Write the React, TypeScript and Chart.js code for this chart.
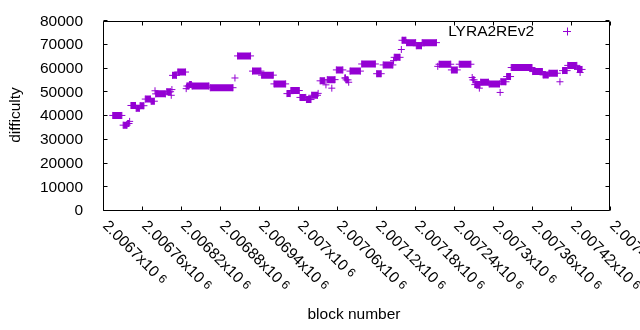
import React, { useEffect, useRef } from "react";
import { Chart, registerables } from "chart.js";

Chart.register(...registerables);

// Runs of consecutive blocks sharing the same difficulty (start block, end block, difficulty)
const runStart = [
  2006715, 2006731, 2006738, 2006741, 2006743, 2006751, 2006757, 2006765, 2006774, 2006780,
  2006781, 2006798, 2006805, 2006806, 2006807, 2006815, 2006828, 2006829, 2006833, 2006837,
  2006865, 2006903, 2006907, 2006930, 2006944, 2006963, 2006983, 2006989, 2007003, 2007013,
  2007021, 2007031, 2007034, 2007043, 2007045, 2007052, 2007059, 2007072, 2007074, 2007078,
  2007080, 2007098, 2007121, 2007131, 2007147, 2007148, 2007159, 2007160, 2007167, 2007182,
  2007191, 2007215, 2007217, 2007236, 2007248, 2007268, 2007269, 2007272, 2007279, 2007281,
  2007294, 2007311, 2007312, 2007321, 2007328, 2007361, 2007377, 2007386, 2007403, 2007407,
  2007415, 2007430, 2007434,
];
const runEnd = [
  2006729, 2006737, 2006740, 2006741, 2006750, 2006756, 2006763, 2006773, 2006779, 2006780,
  2006796, 2006804, 2006805, 2006806, 2006813, 2006827, 2006828, 2006832, 2006836, 2006863,
  2006900, 2006903, 2006927, 2006943, 2006962, 2006981, 2006988, 2007002, 2007012, 2007020,
  2007030, 2007031, 2007041, 2007043, 2007057, 2007052, 2007069, 2007073, 2007077, 2007078,
  2007096, 2007119, 2007128, 2007146, 2007147, 2007157, 2007159, 2007166, 2007181, 2007190,
  2007213, 2007215, 2007235, 2007245, 2007266, 2007268, 2007271, 2007280, 2007279, 2007293,
  2007310, 2007311, 2007320, 2007327, 2007360, 2007376, 2007385, 2007399, 2007403, 2007414,
  2007429, 2007437, 2007434,
];
const runDifficulty = [
  40300, 36200, 36900, 37800, 44500, 43300, 44400, 47200, 46300, 50700,
  49400, 50300, 48800, 51200, 57200, 58600, 51600, 52700, 53300, 52700,
  52000, 56100, 65400, 59000, 57300, 53600, 49500, 50800, 47900, 47000,
  48800, 49600, 54900, 53200, 55400, 51800, 59500, 56100, 55300, 54300,
  59000, 62000, 57900, 61600, 63400, 64800, 68100, 72000, 71000, 69700,
  71000, 61000, 61900, 59500, 61900, 56300, 55300, 53300, 51800, 54300,
  53600, 50000, 54500, 56700, 60500, 58800, 57400, 58100, 54500, 59200,
  61400, 59700, 58400,
];

const seriesName = "LYRA2REv2";
const xTickValues = [
  2006700, 2006760, 2006820, 2006880, 2006940, 2007000, 2007060,
  2007120, 2007180, 2007240, 2007300, 2007360, 2007420, 2007480,
];
const xTickLabels = [
  "2.0067", "2.00676", "2.00682", "2.00688", "2.00694", "2.007", "2.00706",
  "2.00712", "2.00718", "2.00724", "2.0073", "2.00736", "2.00742", "2.00748",
];
const yTickValues = [0, 10000, 20000, 30000, 40000, 50000, 60000, 70000, 80000];

const FONT = '"Liberation Sans", Arial, sans-serif';
const COLOR = "#9400D3";

export default function App() {
  const canvasRef = useRef<HTMLCanvasElement | null>(null);

  useEffect(() => {
    const canvas = canvasRef.current;
    if (!canvas) return;

    const data: any[] = [];
    for (let i = 0; i < runStart.length; i++) {
      data.push({ x: runStart[i], y: runDifficulty[i] });
      if (runEnd[i] !== runStart[i]) data.push({ x: runEnd[i], y: runDifficulty[i] });
      data.push({ x: runEnd[i], y: null });
    }

    const decor = {
      id: "gnuplotDecor",
      afterDraw(chart: any) {
        const { ctx, chartArea: a, scales } = chart;
        const xs = scales.x;
        const ys = scales.y;
        ctx.save();
        ctx.strokeStyle = "#000";
        ctx.lineWidth = 1;
        const L = Math.round(a.left) + 0.5;
        const R = Math.round(a.right) - 0.5;
        const T = Math.round(a.top) + 0.5;
        const B = Math.round(a.bottom) - 0.5;
        ctx.beginPath();
        ctx.rect(L, T, R - L, B - T);
        ctx.stroke();
        ctx.beginPath();
        for (const v of xTickValues) {
          const px = Math.round(xs.getPixelForValue(v)) + 0.5;
          ctx.moveTo(px, B);
          ctx.lineTo(px, B - 4);
          ctx.moveTo(px, T);
          ctx.lineTo(px, T + 4);
        }
        for (const v of yTickValues) {
          const py = Math.round(ys.getPixelForValue(v)) - 0.5;
          ctx.moveTo(L, py);
          ctx.lineTo(L + 4, py);
          ctx.moveTo(R, py);
          ctx.lineTo(R - 4, py);
        }
        ctx.stroke();

        // x tick labels rotated clockwise
        ctx.fillStyle = "#000";
        xTickValues.forEach((v, i) => {
          const px = xs.getPixelForValue(v);
          ctx.save();
          ctx.translate(px + 2, B + 13);
          ctx.rotate(Math.PI / 4);
          ctx.font = `15.5px ${FONT}`;
          ctx.textAlign = "left";
          ctx.textBaseline = "middle";
          const main = xTickLabels[i] + "x10";
          ctx.fillText(main, 0, 0);
          const w = ctx.measureText(main).width;
          ctx.font = `12px ${FONT}`;
          ctx.fillText("6", w + 4, -1);
          ctx.restore();
        });

        // axis titles
        ctx.font = `15.5px ${FONT}`;
        ctx.textAlign = "center";
        ctx.textBaseline = "middle";
        ctx.fillText("block number", 354, 315);
        ctx.save();
        ctx.translate(16, 115);
        ctx.rotate(-Math.PI / 2);
        ctx.fillText("difficulty", 0, 0);
        ctx.restore();

        // legend
        ctx.textAlign = "right";
        ctx.fillText(chart.data.datasets[0].label, 534, 31.5);
        ctx.strokeStyle = COLOR;
        ctx.beginPath();
        ctx.moveTo(563, 31.5);
        ctx.lineTo(571, 31.5);
        ctx.moveTo(567.5, 27.5);
        ctx.lineTo(567.5, 35.5);
        ctx.stroke();
        ctx.restore();
      },
    };

    const chart = new Chart(canvas, {
      type: "scatter",
      data: {
        datasets: [
          {
            label: seriesName,
            data,
            showLine: true,
            spanGaps: false,
            borderColor: COLOR,
            backgroundColor: COLOR,
            borderWidth: 7,
            borderCapStyle: "butt",
            pointStyle: "cross",
            pointRadius: 3.5,
            pointHoverRadius: 3.5,
            pointBorderWidth: 1,
            pointBorderColor: COLOR,
            pointBackgroundColor: COLOR,
          } as any,
        ],
      },
      options: {
        responsive: false,
        animation: false,
        devicePixelRatio: 1,
        events: [],
        layout: { padding: { left: 0, right: 30, top: 19, bottom: 0 } },
        plugins: {
          legend: { display: false },
          tooltip: { enabled: false },
        },
        scales: {
          x: {
            type: "linear",
            min: 2006700,
            max: 2007480,
            ticks: { display: false, stepSize: 60 },
            grid: { display: false },
            border: { display: false },
            afterFit(s: any) {
              s.height = 119;
            },
          },
          y: {
            min: 0,
            max: 80000,
            ticks: {
              stepSize: 10000,
              padding: 12,
              color: "#000",
              font: { family: FONT, size: 15.5 },
              callback: (v: any) => String(v),
            },
            grid: { display: false },
            border: { display: false },
            afterFit(s: any) {
              s.width = 103;
            },
          },
        },
      } as any,
      plugins: [decor],
    });

    return () => chart.destroy();
  }, []);

  return (
    <div style={{ position: "absolute", left: 0, top: 0, width: 640, height: 330, background: "#fff" }}>
      <canvas ref={canvasRef} width={640} height={330} style={{ width: 640, height: 330 }} />
    </div>
  );
}
